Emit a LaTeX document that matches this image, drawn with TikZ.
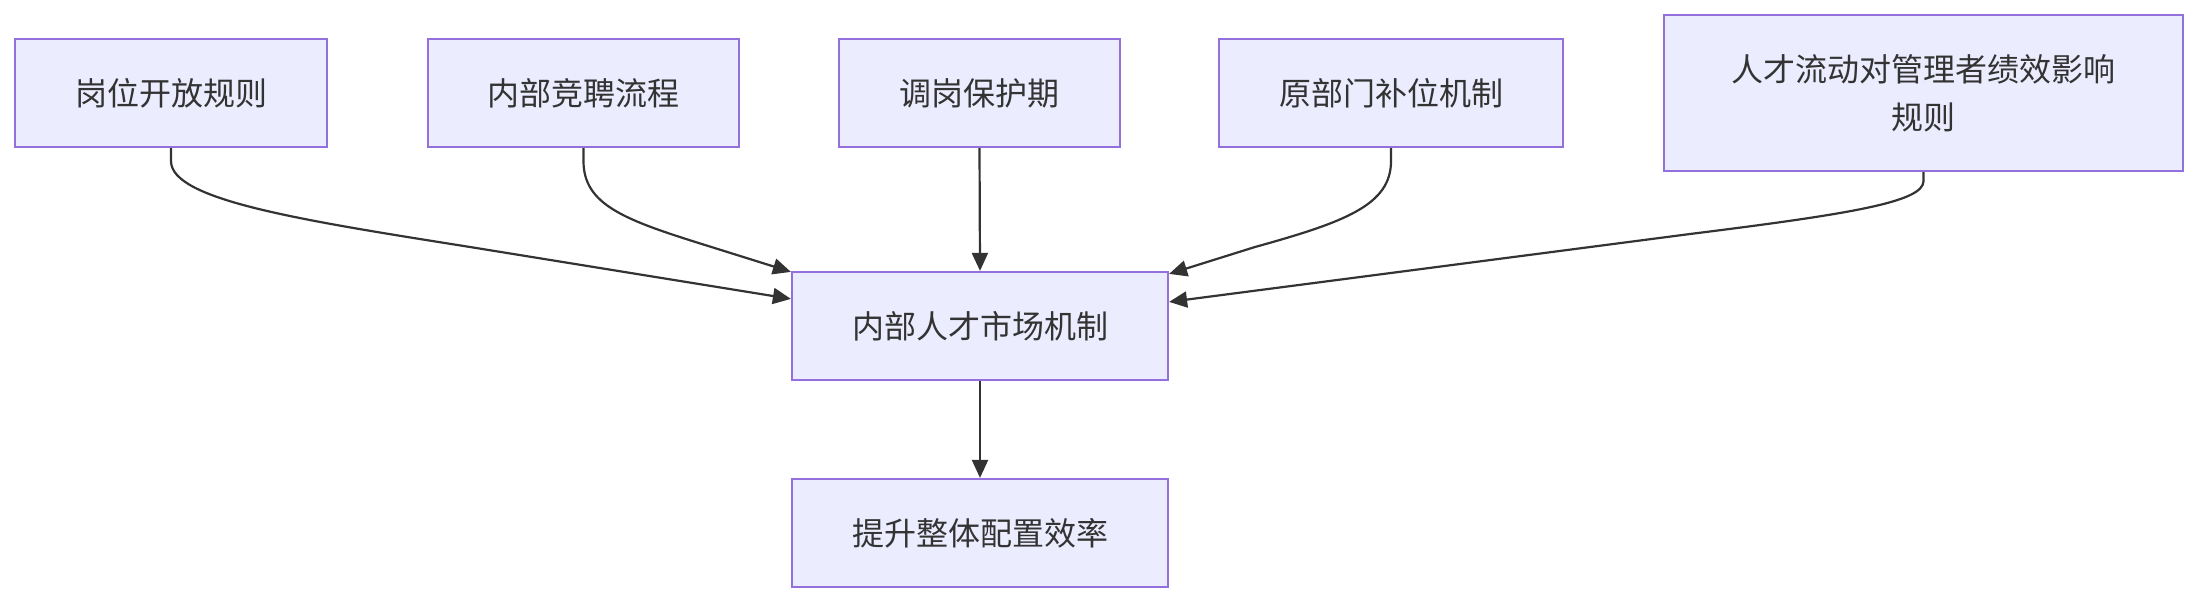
\documentclass[tikz,border=0pt]{standalone}
\usepackage{fontspec}
\newfontfamily\cjk{Noto Sans CJK SC}
\usetikzlibrary{arrows.meta,calc}
\definecolor{boxfill}{HTML}{ECECFF}
\definecolor{boxdraw}{HTML}{9370DB}
\definecolor{linec}{HTML}{333333}
\begin{document}
\begin{tikzpicture}[x=1pt,y=-1pt,
  box/.style={draw=boxdraw,fill=boxfill,line width=2.2pt,inner sep=0pt,
    minimum height=108pt,text=linec,align=center,
    font=\cjk\fontsize{32}{48}\selectfont},
  conn/.style={draw=linec,line width=2.2pt,-{Triangle[length=18pt,width=16pt]}}]
\useasboundingbox (0,0) rectangle (2200,604);
\node[box,minimum width=312pt] (b1) at (171,93) {岗位开放规则};
\node[box,minimum width=311pt] (b2) at (583.5,93) {内部竞聘流程};
\node[box,minimum width=281pt] (b3) at (979.5,93) {调岗保护期};
\node[box,minimum width=344pt] (b4) at (1391,93) {原部门补位机制};
\node[box,minimum width=519pt,minimum height=156pt] (b5) at (1923.5,93) {人才流动对管理者绩效影响\\规则};
\node[box,minimum width=376pt] (c) at (980,326) {内部人才市场机制};
\node[box,minimum width=376pt] (d) at (980,533) {提升整体配置效率};
\draw[conn] (b1.south) -- ++(0,13) .. controls (171,200) and (300,220) .. (470,247) -- ($(c.north west)+(0,28)$);
\draw[conn] (b2.south) -- ++(0,13) .. controls (583.5,205) and (625,220) .. (705,245) -- ($(c.north west)+(0,1)$);
\draw[conn] (b3.south) -- (c.north);
\draw[conn] (b4.south) -- ++(0,13) .. controls (1391,205) and (1345,222) .. (1255,247) -- ($(c.north east)+(0,3)$);
\draw[conn] (b5.south) -- ++(0,9) .. controls (1923.5,202) and (1850,214) .. (1690,234) -- ($(c.north east)+(0,31)$);
\draw[conn] (c.south) -- (d.north);
\end{tikzpicture}
\end{document}
